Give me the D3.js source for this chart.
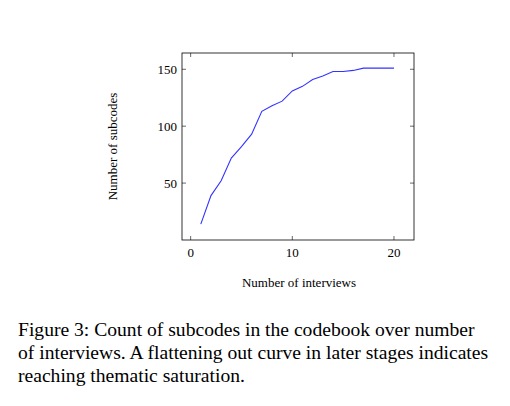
<!DOCTYPE html><html><head><meta charset="utf-8"><script src="https://cdn.jsdelivr.net/npm/d3@7"></script>
<style>body{margin:0;background:#fff}text{font-family:"Liberation Serif","Times New Roman",serif}</style></head><body>
<svg id="c" width="510" height="406"></svg>
<script>
const interviews=[1,2,3,4,5,6,7,8,9,10,11,12,13,14,15,16,17,18,19,20];
const subcodes=[14,39,52,72,82,93,113,118,122,131,135,141,144,148,148,149,151,151,151,151];
const xTicks=[0,10,20], yTicks=[50,100,150];
const svg=d3.select("#c");
const L=182,R=414,T=53,B=240;
const x=d3.scaleLinear().domain([-0.85,21.97]).range([L,R]);
const y=d3.scaleLinear().domain([0,164.3]).range([B,T]);
const g=svg.append("g");
g.append("rect").attr("x",L).attr("y",T).attr("width",R-L).attr("height",B-T).attr("fill","none").attr("stroke","#000").attr("stroke-width",0.8);
const tl=4;
xTicks.forEach(t=>{g.append("line").attr("x1",x(t)).attr("x2",x(t)).attr("y1",B).attr("y2",B-tl).attr("stroke","#000").attr("stroke-width",0.6);
g.append("line").attr("x1",x(t)).attr("x2",x(t)).attr("y1",T).attr("y2",T+tl).attr("stroke","#000").attr("stroke-width",0.6);
g.append("text").attr("x",x(t)).attr("y",B+17).attr("text-anchor","middle").attr("font-size",13).text(t);});
yTicks.forEach(t=>{g.append("line").attr("y1",y(t)).attr("y2",y(t)).attr("x1",L).attr("x2",L+tl).attr("stroke","#000").attr("stroke-width",0.6);
g.append("line").attr("y1",y(t)).attr("y2",y(t)).attr("x1",R).attr("x2",R-tl).attr("stroke","#000").attr("stroke-width",0.6);
g.append("text").attr("x",L-5).attr("y",y(t)+4.5).attr("text-anchor","end").attr("font-size",13).text(t);});
g.append("path").datum(interviews.map((d,i)=>[d,subcodes[i]])).attr("d",d3.line().x(d=>x(d[0])).y(d=>y(d[1]))).attr("fill","none").attr("stroke","#3333ff").attr("stroke-width",1.1);
g.append("text").attr("x",(L+R)/2+1).attr("y",287).attr("text-anchor","middle").attr("font-size",13).text("Number of interviews");
g.append("text").attr("transform",`translate(117,${(T+B)/2}) rotate(-90)`).attr("text-anchor","middle").attr("font-size",13).text("Number of subcodes");
["Figure 3: Count of subcodes in the codebook over number","of interviews. A flattening out curve in later stages indicates","reaching thematic saturation."].forEach((s,i)=>
svg.append("text").attr("x",18).attr("y",336+i*23).attr("font-size",19.6).text(s));
</script></body></html>
